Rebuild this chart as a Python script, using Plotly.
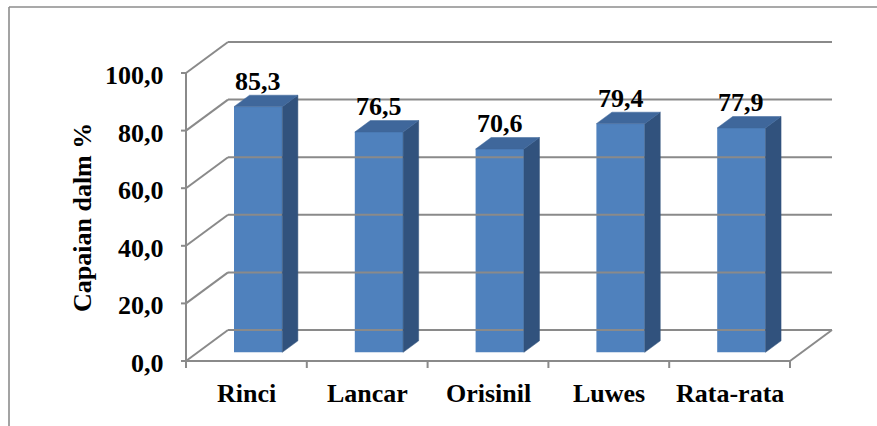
import plotly.graph_objects as go

# ---- data ---------------------------------------------------------------
categories = ["Rinci", "Lancar", "Orisinil", "Luwes", "Rata-rata"]
values = [85.3, 76.5, 70.6, 79.4, 77.9]
y_ticks = [0, 20, 40, 60, 80, 100]
axis_title = "Capaian dalm %"

# ---- geometry / style ---------------------------------------------------
W, H = 877, 426
X0_PX, CAT_PX = 186, 120.8      # left edge of the front floor, px per category
Y0_PX, VAL_PX = 361, 2.88       # baseline of the front plane, px per value unit
DEPTH_DX = 42 / CAT_PX          # depth offset of the back wall (x units)
DEPTH_DY = 31 / VAL_PX          # depth offset of the back wall (value units)
BAR_HALF = 0.2                  # half width of a bar (categories)
F0, F1 = 0.28, 0.65             # front / back depth fractions of the bars

FRONT = "#4F81BD"
TOP = "#3F679B"
SIDE = "#31527D"
GRID = "#8A8A8A"
FONT = dict(family="Liberation Serif", size=26, color="black")


def px_x(p):
    return p / CAT_PX


def px_y(p):
    return p / VAL_PX


fig = go.Figure()
n = len(categories)
vmax = max(y_ticks)


def line(xs, ys, width=2):
    fig.add_trace(go.Scatter(x=xs, y=ys, mode="lines",
                             line=dict(color=GRID, width=width),
                             hoverinfo="skip", showlegend=False))


# back wall gridlines and left wall diagonals
for t in y_ticks:
    line([DEPTH_DX, n + DEPTH_DX], [t + DEPTH_DY, t + DEPTH_DY])
    line([0, DEPTH_DX], [t, t + DEPTH_DY])

# floor: front edge (category axis), right edge
line([0, n], [0, 0])
line([n, n + DEPTH_DX], [0, DEPTH_DY])
# value axis
line([0, 0], [0, vmax])
for t in y_ticks:
    line([-px_x(5), 0], [t, t])
for i in range(n + 1):
    line([i, i], [0, -px_y(7)])

# bars: side and top faces as polygons, front face as a bar trace
ddx = (F1 - F0) * DEPTH_DX
ddy = (F1 - F0) * DEPTH_DY
for i, v in enumerate(values):
    xl = i + 0.5 - BAR_HALF + F0 * DEPTH_DX
    xr = i + 0.5 + BAR_HALF + F0 * DEPTH_DX
    yb = F0 * DEPTH_DY
    yt = v + F0 * DEPTH_DY
    fig.add_trace(go.Scatter(
        x=[xr, xr + ddx, xr + ddx, xr, xr],
        y=[yb, yb + ddy, yt + ddy, yt, yb],
        mode="lines", fill="toself", fillcolor=SIDE,
        line=dict(color=SIDE, width=0.5),
        hoverinfo="skip", showlegend=False))
    fig.add_trace(go.Scatter(
        x=[xl, xr, xr + ddx, xl + ddx, xl],
        y=[yt, yt, yt + ddy, yt + ddy, yt],
        mode="lines", fill="toself", fillcolor=TOP,
        line=dict(color=TOP, width=0.5),
        hoverinfo="skip", showlegend=False))

fig.add_trace(go.Bar(
    x=[i + 0.5 + F0 * DEPTH_DX for i in range(n)],
    y=values,
    base=[F0 * DEPTH_DY] * n,
    width=2 * BAR_HALF,
    marker=dict(color=FRONT, line=dict(width=0)),
    hoverinfo="skip", showlegend=False))

annotations = []
# data labels
for i, v in enumerate(values):
    annotations.append(dict(
        x=i + 0.5 + F0 * DEPTH_DX, y=v + F0 * DEPTH_DY,
        text=f"<b>{v:.1f}</b>".replace(".", ","),
        showarrow=False, xanchor="center", yanchor="bottom",
        yshift=9, font=FONT))
# value tick labels
for t in y_ticks:
    annotations.append(dict(
        x=0, y=t, text=f"<b>{t:.1f}</b>".replace(".", ","),
        showarrow=False, xanchor="right", yanchor="middle",
        xshift=-20, yshift=-2.5, font=FONT))
# category labels
for i, c in enumerate(categories):
    annotations.append(dict(
        x=i + 0.5, y=0, text=f"<b>{c}</b>",
        showarrow=False, xanchor="center", yanchor="top",
        yshift=-16, font=FONT))
# value axis title
annotations.append(dict(
    x=83 / W, y=1 - 218 / H, xref="paper", yref="paper",
    text=f"<b>{axis_title}</b>", textangle=-90,
    showarrow=False, xanchor="center", yanchor="middle", font=FONT))

# chart area border (left and top edges)
shapes = [
    dict(type="line", xref="paper", yref="paper",
         x0=9 / W, x1=9 / W, y0=1 - 7 / H, y1=-0.05,
         line=dict(color="#8C8C8C", width=1.6)),
    dict(type="line", xref="paper", yref="paper",
         x0=9 / W, x1=1.05, y0=1 - 7 / H, y1=1 - 7 / H,
         line=dict(color="#8C8C8C", width=1.6)),
]

fig.update_layout(
    width=W, height=H,
    margin=dict(l=0, r=0, t=0, b=0),
    paper_bgcolor="white", plot_bgcolor="white",
    xaxis=dict(range=[-X0_PX / CAT_PX, (W - X0_PX) / CAT_PX],
               visible=False, fixedrange=True),
    yaxis=dict(range=[-(H - Y0_PX) / VAL_PX, Y0_PX / VAL_PX],
               visible=False, fixedrange=True),
    annotations=annotations,
    shapes=shapes,
    hovermode=False,
    showlegend=False,
)

fig.write_html("out.html")
